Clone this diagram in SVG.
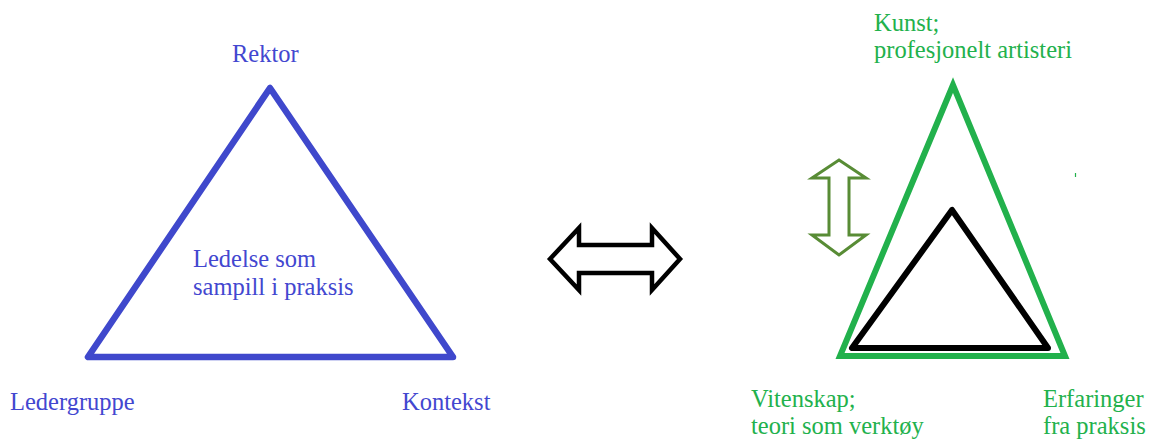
<svg xmlns="http://www.w3.org/2000/svg" width="1155" height="441" viewBox="0 0 1155 441">
<style>
  .t { font-family: "Liberation Serif", "Times New Roman", serif; font-size: 24.5px; }
  .blue { fill: #4347D0; }
  .green { fill: #22B14C; }
  .tri-blue { fill: none; stroke: #3F48CC; stroke-width: 6.5; stroke-linejoin: round; }
  .tri-green { fill: none; stroke: #22B14C; stroke-width: 6; stroke-linejoin: miter; }
  .tri-black { fill: none; stroke: #000; stroke-width: 6; stroke-linejoin: round; }
</style>
<rect width="1155" height="441" fill="#fff"/>

<g id="left-triangle">
  <polygon class="tri-blue" points="270,88 88,357 453,357"/>
  <text class="t blue" x="193" y="267">Ledelse som</text>
  <text class="t blue" x="193" y="295">sampill i praksis</text>
</g>
<g id="rektor"><text class="t blue" x="232" y="62">Rektor</text></g>
<g id="ledergruppe"><text class="t blue" x="10" y="410">Ledergruppe</text></g>
<g id="kontekst"><text class="t blue" x="402" y="410">Kontekst</text></g>

<g id="right-triangles">
  <polygon class="tri-green" points="953,85 840,356 1065,356"/>
  <polygon class="tri-black" points="952,210 852,348 1048,348"/>
  <line x1="1075.5" y1="173" x2="1075.5" y2="177" stroke="#22B14C" stroke-width="1.2"/>
</g>
<g id="kunst">
  <text class="t green" x="874" y="31">Kunst;</text>
  <text class="t green" x="874" y="58">profesjonelt artisteri</text>
</g>
<g id="vitenskap">
  <text class="t green" x="751" y="407">Vitenskap;</text>
  <text class="t green" x="751" y="434">teori som verktøy</text>
</g>
<g id="erfaringer">
  <text class="t green" x="1043" y="407">Erfaringer</text>
  <text class="t green" x="1043" y="434">fra praksis</text>
</g>

<g id="connectors">
  <polygon points="550,259 579,228 579,245 652,245 652,228 680,259 652,290 652,273 579,273 579,290" fill="#fff" stroke="#000" stroke-width="4.5" stroke-linejoin="miter"/>
  <polygon points="839,160 866,178 849,178 849,235 866,235 839,255 812,235 829,235 829,178 812,178" fill="#fff" stroke="#588C35" stroke-width="3" stroke-linejoin="miter"/>
</g>
</svg>
